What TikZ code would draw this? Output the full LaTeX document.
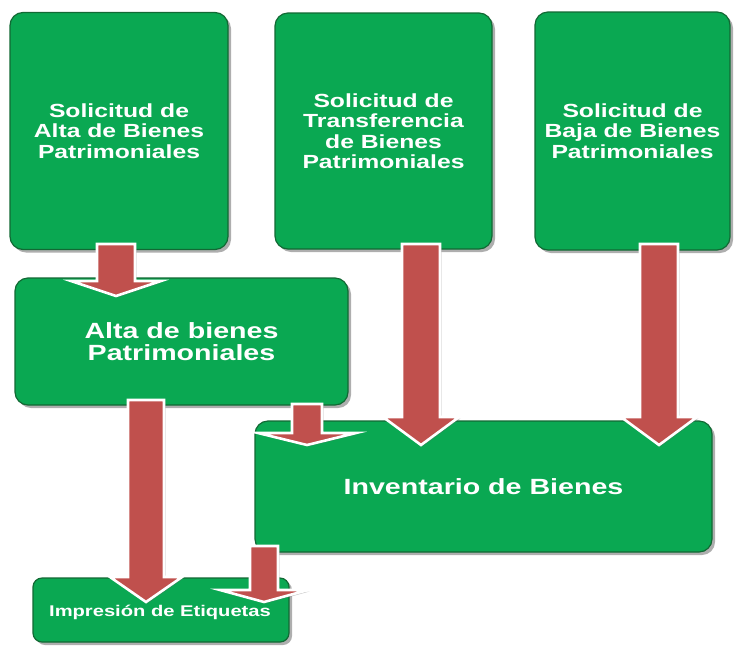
\documentclass[tikz,border=0pt]{standalone}
\usepackage{fontspec}
\setmainfont{Liberation Sans}
\newfontfamily\bfont[FakeStretch=1.3]{Liberation Sans}
\usetikzlibrary{calc,shadows}
\definecolor{boxgreen}{RGB}{10,168,82}
\definecolor{boxedge}{RGB}{18,105,52}
\definecolor{arrred}{RGB}{192,80,77}
\tikzset{
  gbox/.style={draw=boxedge, line width=1.2pt, fill=boxgreen, rounded corners=13pt,
    inner sep=0pt, align=center, text=white,
    drop shadow={shadow xshift=3pt, shadow yshift=-3pt, opacity=0.45, fill=black!70}},
  topfont/.style={font={\bfont\bfseries\fontsize{19}{20.5}\selectfont}},
  midfont/.style={font={\bfont\bfseries\fontsize{22}{22.5}\selectfont}},
  smallfont/.style={font={\bfont\bfseries\fontsize{15.5}{16}\selectfont}},
  barrow/.style={draw=white, line width=2.6pt, fill=arrred, line join=miter,
    drop shadow={shadow xshift=1.5pt, shadow yshift=-1.5pt, opacity=0.35, fill=black!60}},
}
% #1 start coord, #2 tip coord, #3 shaft half, #4 head half, #5 head length
\newcommand{\blockarr}[5]{%
  \path[barrow] ($(#1)+(-#3,0)$) -- ($(#2)+(-#3,-#5)$) -- ($(#2)+(-#4,-#5)$) -- (#2)
    -- ($(#2)+(#4,-#5)$) -- ($(#2)+(#3,-#5)$) -- ($(#1)+(#3,0)$) -- cycle;}
\begin{document}
\begin{tikzpicture}[x=1pt,y=-1pt]
\useasboundingbox (0,0) rectangle (738,646);
\fill[white] (0,0) rectangle (738,646);
% top boxes
\node[gbox, topfont, minimum width=218pt, minimum height=237pt] (b1) at (119,131)
  {Solicitud de\\Alta de Bienes\\Patrimoniales};
\node[gbox, topfont, minimum width=217pt, minimum height=236pt] (b2) at (383.5,131)
  {Solicitud de\\Transferencia\\de Bienes\\Patrimoniales};
\node[gbox, topfont, minimum width=195pt, minimum height=238pt] (b3) at (632.5,131)
  {Solicitud de\\Baja de Bienes\\Patrimoniales};
% middle boxes
\node[gbox, midfont, minimum width=333pt, minimum height=127pt] (alta) at (181.5,341.5)
  {Alta de bienes\\Patrimoniales};
\node[gbox, midfont, minimum width=457pt, minimum height=131pt] (inv) at (483.5,486.5)
  {Inventario de Bienes};
\node[gbox, rounded corners=9pt, minimum width=256pt, minimum height=64pt] (imp) at (161,610) {};
\node[smallfont, text=white, inner sep=0pt] (impt) at (160,612) {Impresión de Etiquetas};
% connector end points
\coordinate (a1s) at (116,244);
\coordinate (a1e) at (116,296);
\coordinate (a2s) at (146,400);
\coordinate (a2e) at (146,602);
\coordinate (a3s) at (307,404);
\coordinate (a3e) at (307,445);
\coordinate (a4s) at (421,244);
\coordinate (a4e) at (421,445);
\coordinate (a5s) at (659,244);
\coordinate (a5e) at (659,445);
\coordinate (a6s) at (264,546);
\coordinate (a6e) at (264,602);
\blockarr{a1s}{a1e}{19}{45}{15}
\blockarr{a2s}{a2e}{18}{36}{25}
\blockarr{a3s}{a3e}{15}{49}{12}
\blockarr{a4s}{a4e}{19}{38}{28}
\blockarr{a5s}{a5e}{19}{38}{28}
\blockarr{a6s}{a6e}{14}{44}{12}
\end{tikzpicture}
\end{document}
